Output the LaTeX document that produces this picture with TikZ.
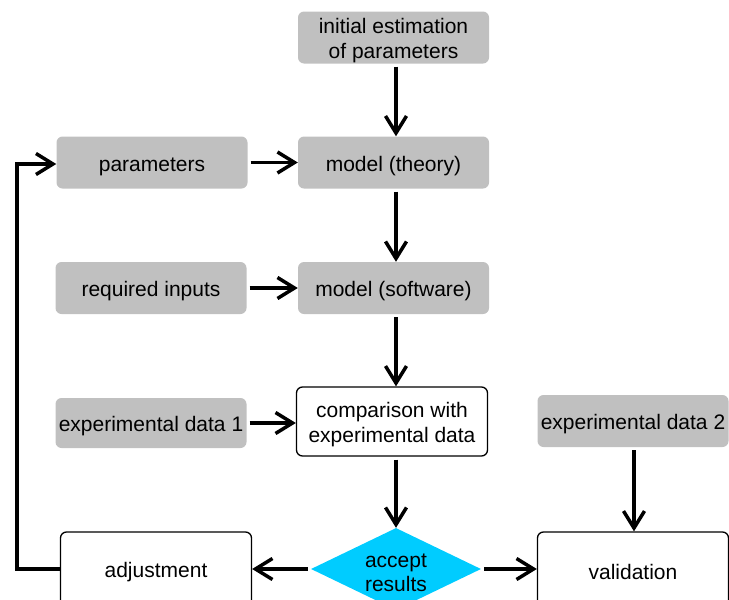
\documentclass[tikz,border=0pt]{standalone}
\usepackage{fontspec}
\setmainfont{Liberation Sans}
\usetikzlibrary{arrows.meta,shapes.geometric}
\definecolor{boxgray}{RGB}{192,192,192}
\definecolor{decide}{RGB}{0,204,255}
% strut that lowers the first line of a box's text a little
\newcommand{\toppad}[1][22pt]{\rule{0pt}{#1}}
\tikzset{
  base/.style={rounded corners=6pt, minimum width=191pt, minimum height=52pt,
    inner xsep=2pt, inner ysep=0pt, align=center, font=\fontsize{21}{25}\selectfont,
    execute at begin node={\toppad}},
  graybox/.style={base, fill=boxgray},
  whitebox/.style={base, fill=white, draw=black, line width=1.3pt},
  decision/.style={diamond, fill=decide, minimum width=170pt, minimum height=82pt, inner sep=0pt},
  decisiontext/.style={align=center, inner sep=0pt, font=\fontsize{21}{24}\selectfont},
  flow/.style={line width=3.5pt, -{Straight Barb[length=17pt,width=21pt]}, shorten <=3pt},
  wire/.style={line width=3.5pt}
}
\begin{document}
\begin{tikzpicture}[x=1pt,y=-1pt]
  \useasboundingbox (0,0) rectangle (729,600);
  \clip (0,0) rectangle (729,600);

  % process chain
  \node[graybox] (init) at (393.5,37.5) {\toppad initial estimation\\of parameters};
  \node[graybox] (theory) at (393.5,162.5) {model (theory)};
  \node[graybox] (param) at (152,162.5) {parameters};
  \node[graybox] (inputs) at (151,288) {required inputs};
  \node[graybox] (software) at (393.5,288) {model (software)};
  \node[whitebox, minimum height=69pt] (compare) at (392,421.5) {\toppad comparison with\\experimental data};
  \node[graybox, minimum height=50pt] (exp1) at (151,423) {experimental data 1};
  \node[graybox] (exp2) at (633,421) {experimental data 2};
  \node[decision] (accept) at (396,569) {};
  \node[decisiontext] (acceptlbl) at (accept.center) {\toppad[21pt]accept\\results};
  \node[whitebox, minimum height=74pt] (adjust) at (156,569) {adjustment};
  \node[whitebox, minimum height=74pt] (valid) at (633,569) {validation};

  % columns of the vertical connectors
  \coordinate (mid) at (396,0);
  \coordinate (right) at (634,0);

  % connectors
  \draw[flow] (init.south -| mid) -- (theory.north -| mid);
  \draw[flow] (param) -- (theory);
  \draw[flow] (theory.south -| mid) -- (software.north -| mid);
  \draw[flow] (inputs) -- (software);
  \draw[flow] (software.south -| mid) -- (compare.north -| mid);
  \draw[flow] (exp1.east) -- (compare.west |- exp1.east);
  \draw[flow] (compare.south -| mid) -- (accept.north);
  \draw[flow] (accept.west) -- (adjust.east);
  \draw[flow] (accept.east) -- (valid.west);
  \draw[flow] (exp2.south -| right) -- (valid.north -| right);

  % feedback loop back to the parameters
  \coordinate (loopbottom) at (17,569);
  \coordinate (looptop) at (17,164);
  \coordinate (loopturn) at (37,164);
  \draw[wire, line join=miter] (adjust.west) -- (loopbottom) -- (looptop) -- (loopturn);
  \draw[flow, shorten <=0pt] (loopturn) -- (param.west |- looptop);
\end{tikzpicture}
\end{document}
